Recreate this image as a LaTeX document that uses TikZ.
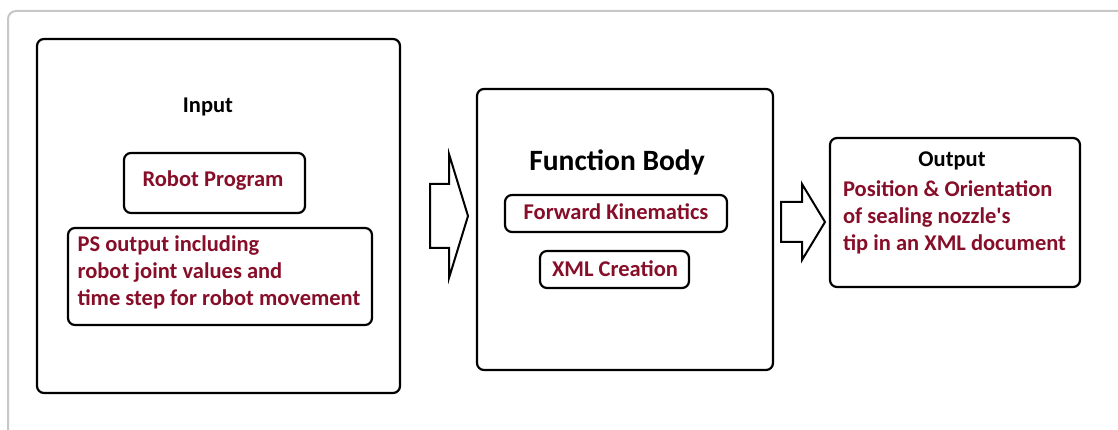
\documentclass[tikz,border=0pt]{standalone}
\usepackage{fontspec}
\setmainfont{Carlito}
\definecolor{darkred}{RGB}{135,14,40}
\begin{document}
\begin{tikzpicture}[x=1pt, y=-1pt,
  box/.style={draw, line width=2.2pt, rounded corners=7pt, inner sep=0pt},
  txt/.style={inner sep=0pt, font=\fontsize{22.5}{27}\selectfont\bfseries},
  redtxt/.style={txt, text=darkred, align=left},
  blockarrow/.style={draw, line width=2pt, line join=miter}]
\useasboundingbox (0,0) rectangle (1118,430);
\draw[black!22, line width=2pt, rounded corners=8pt] (1118,11) -- (8,11) -- (8,430);
% input side
\node[box, minimum width=363, minimum height=354] (inbox) at (218.5,216) {};
\node[txt] (inlbl) at (208,107) {Input};
\node[box, minimum width=181, minimum height=60] (prog) at (214.5,183) {};
\node[redtxt] (progtxt) at (213,181) {Robot Program};
\node[box, minimum width=304, minimum height=97] (ps) at (220,276.5) {};
\node[redtxt] (pstxt) at (219,272) {PS output including\\robot joint values and\\time step for robot movement};
% function body
\node[box, minimum width=296, minimum height=281] (fbox) at (625,229.5) {};
\node[txt, font=\fontsize{29.5}{34}\selectfont\bfseries] (flbl) at (617,162) {Function Body};
\node[box, minimum width=222, minimum height=37] (fk) at (616,213.5) {};
\node[redtxt] (fktxt) at (616,212) {Forward Kinematics};
\node[box, minimum width=149, minimum height=37] (xml) at (614.5,269.5) {};
\node[redtxt] (xmltxt) at (615,269) {XML Creation};
% output side
\node[box, minimum width=250, minimum height=149] (outbox) at (955,212.5) {};
\node[txt] (outlbl) at (952,161) {Output};
\node[redtxt] (outtxt) at (954.5,217) {Position \& Orientation\\of sealing nozzle\textquotesingle s\\tip in an XML document};
% block arrows
\coordinate (a1) at (430,215.5);
\coordinate (a2) at (781,221.5);
\draw[blockarrow] (a1) ++(0,-31.5) -- ++(19,0) -- ++(0,-30) -- ++(19,62) -- ++(-19,62) -- ++(0,-30) -- ++(-19,0) -- cycle;
\draw[blockarrow] (a2) ++(0,-19.5) -- ++(21,0) -- ++(0,-18) -- ++(23,38) -- ++(-23,38) -- ++(0,-18) -- ++(-21,0) -- cycle;
\end{tikzpicture}
\end{document}
